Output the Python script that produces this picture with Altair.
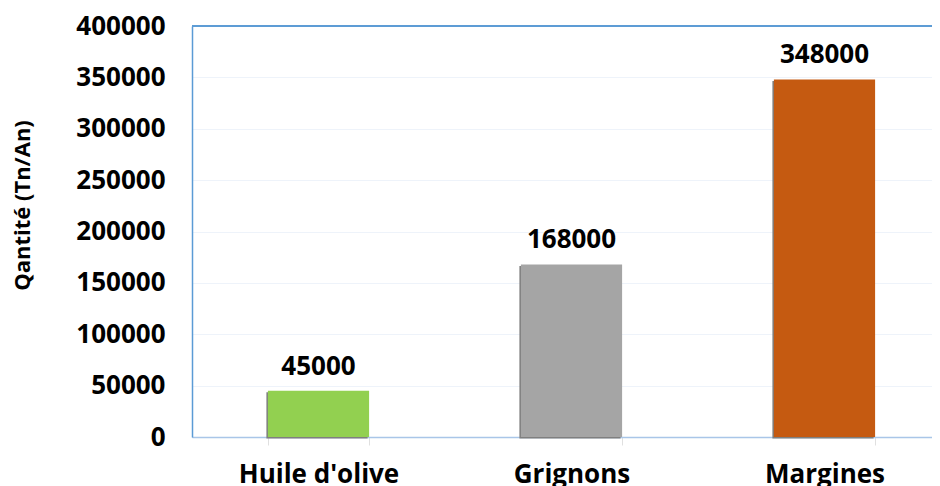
import altair as alt
import pandas as pd

categories = ["Huile d'olive", "Grignons", "Margines"]
values = [45000, 168000, 348000]
colors = ["#92d050", "#a5a5a5", "#c55a11"]
y_ticks = [0, 50000, 100000, 150000, 200000, 250000, 300000, 350000, 400000]

df = pd.DataFrame({"cat": categories, "val": values, "col": colors})

W = 740
H = 411
FONT = "Open Sans"

x_scale = alt.Scale(range=[0, 759], paddingInner=0.6, paddingOuter=0.3)

x_enc = alt.X(
    "cat:N",
    sort=categories,
    scale=x_scale,
    axis=alt.Axis(
        title=None, labelAngle=0, labelFont=FONT, labelFontSize=26,
        labelFontWeight="bold", labelColor="#000000", labelPadding=16,
        domainColor="#a9c6e8", domainWidth=1.5, ticks=True, tickBand="extent",
        tickColor="#e0e0e0", tickSize=8, grid=False,
    ),
)
y_enc = alt.Y(
    "val:Q",
    scale=alt.Scale(domain=[0, 400000], nice=False),
    axis=alt.Axis(
        title="Qantité (Tn/An)", values=y_ticks, format="d",
        labelFont=FONT, labelFontSize=26, labelFontWeight="bold",
        labelColor="#000000", labelPadding=27, ticks=False,
        domainColor="#5b9bd5", domainWidth=1.5,
        gridColor="#eef3fa", gridWidth=1.2,
        titleFont=FONT, titleFontSize=22, titleFontWeight="bold",
        titleColor="#000000", titleAngle=-90, titleX=-170, titleY=179,
        titleAlign="center", titleBaseline="middle",
    ),
)

shadow = alt.Chart(df).mark_bar(color="#7f7f7f", xOffset=-1.5, yOffset=1.5).encode(
    x=x_enc, y=y_enc
)

bars = alt.Chart(df).mark_bar().encode(
    x=alt.X("cat:N", sort=categories), y="val:Q", color=alt.Color("col:N", scale=None)
)

labels = alt.Chart(df).mark_text(
    dy=-24, baseline="middle", font=FONT, fontSize=26, fontWeight="bold", color="#000000"
).encode(x=alt.X("cat:N", sort=categories), y="val:Q", text=alt.Text("val:Q", format="d"))

top = alt.Chart(df).mark_rule(color="#5b9bd5", strokeWidth=1.5).encode(
    x=alt.value(0), x2=alt.value(W), y=alt.value(0)
)

chart = (
    alt.layer(shadow, bars, labels, top)
    .properties(
        width=W, height=H,
        autosize=alt.AutoSizeParams(type="none"),
        padding={"left": 184, "top": 18, "right": 0, "bottom": 49},
    )
    .configure_view(stroke=None)
    .configure(background="#ffffff")
)

chart.save("out.html", embed_options={"renderer": "svg", "actions": False})
